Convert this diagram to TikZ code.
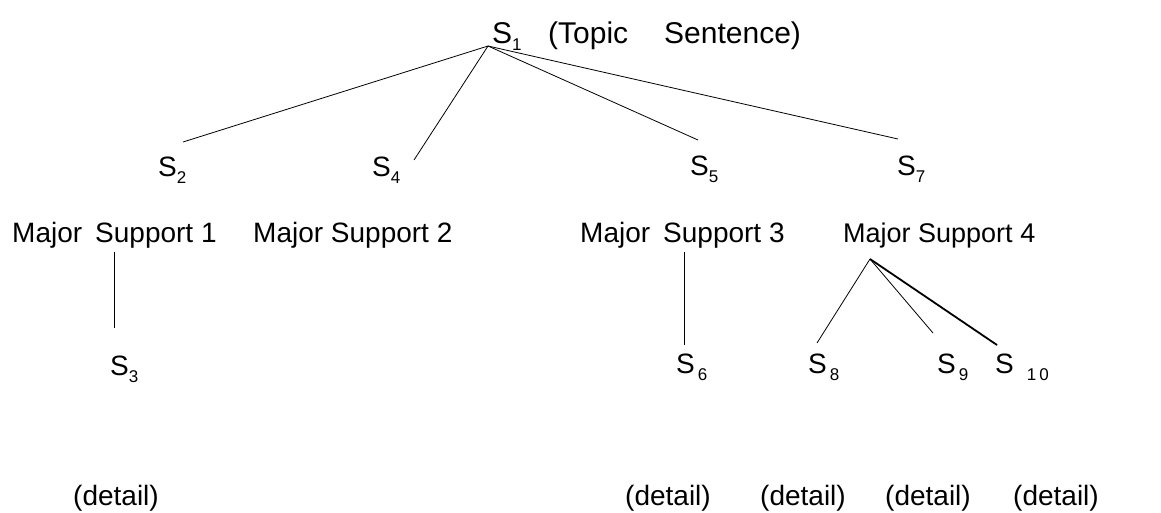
\documentclass[tikz,border=0pt]{standalone}
\usepackage{fontspec}
\setmainfont{Liberation Sans}
\newcommand{\sbs}[1]{\raisebox{-7pt}{\fontsize{17}{17}\selectfont #1}}
\begin{document}
\begin{tikzpicture}[x=1pt,y=-1pt,
  lbl/.style={anchor=base west,inner sep=0pt,font=\fontsize{28}{32}\selectfont},
  toplbl/.style={anchor=base west,inner sep=0pt,font=\fontsize{30}{32}\selectfont},
  link/.style={line width=0.8pt},
  boldlink/.style={line width=1.8pt}]
\useasboundingbox (0,0) rectangle (1161,512);
\fill[white] (0,0) rectangle (1161,512);
% top
\node[toplbl] (s1) at (492,43) {S\sbs{1}};
\node[toplbl] (topic) at (548,43) {(Topic\hspace{36pt}Sentence)};
\coordinate (j1) at (488,46);
% level 2
\node[lbl] (s2) at (158,176) {S\sbs{2}};
\node[lbl] (s4) at (372,176) {S\sbs{4}};
\node[lbl] (s5) at (690,175) {S\sbs{5}};
\node[lbl] (s7) at (897,175) {S\sbs{7}};
\coordinate (e2) at (183,142);
\coordinate (e4) at (414,160);
\coordinate (e5) at (698,140);
\coordinate (e7) at (898,139);
\draw[link] (j1) -- (e2);
\draw[link] (j1) -- (e4);
\draw[link] (j1) -- (e5);
\draw[link] (j1) -- (e7);
% supports
\node[lbl] (m1) at (12,242) {Major\hspace{13pt}Support 1};
\node[lbl] (m2) at (253,242) {Major Support 2};
\node[lbl] (m3) at (580,242) {Major\hspace{13pt}Support 3};
\node[lbl,font=\fontsize{27}{32}\selectfont] (m4) at (843,242) {Major Support 4};
% level 3
\node[lbl] (s3) at (110,375) {S\sbs{3}};
\node[lbl] (s6) at (676,373) {S\hspace{3pt}\sbs{6}};
\node[lbl] (s8) at (808,373) {S\hspace{3pt}\sbs{8}};
\node[lbl] (s9) at (937,373) {S\hspace{3pt}\sbs{9}};
\node[lbl] (s10) at (995,373) {S\hspace{13pt}\sbs{1\hspace{3pt}0}};
\coordinate (a1) at (114,252);
\coordinate (b1) at (114,328);
\coordinate (a3) at (684,252);
\coordinate (b3) at (684,345);
\coordinate (j4) at (870,259);
\coordinate (e8) at (817,343);
\coordinate (e9) at (933,333);
\coordinate (e10) at (997,345);
\draw[link] (a1) -- (b1);
\draw[link] (a3) -- (b3);
\draw[link] (j4) -- (e8);
\draw[link] (j4) -- (e9);
\draw[boldlink] (j4) -- (e10);
% details
\node[lbl] (d1) at (73,505) {(detail)};
\node[lbl] (d2) at (625,505) {(detail)};
\node[lbl] (d3) at (760,505) {(detail)};
\node[lbl] (d4) at (885,505) {(detail)};
\node[lbl] (d5) at (1013,505) {(detail)};
\end{tikzpicture}
\end{document}
